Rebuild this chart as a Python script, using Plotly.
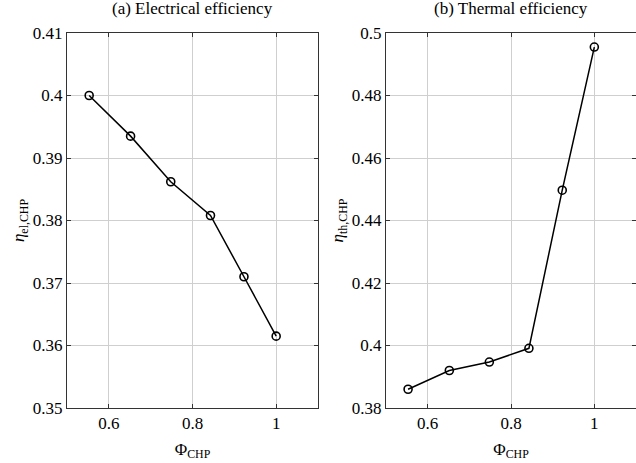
import plotly.graph_objects as go
from plotly.subplots import make_subplots

phi = [0.553, 0.652, 0.748, 0.843, 0.923, 1.0]
eta_el = [0.4000, 0.3935, 0.3862, 0.3808, 0.3710, 0.3615]
eta_th = [0.3860, 0.3920, 0.3947, 0.3991, 0.4497, 0.4955]

titles = ["(a) Electrical efficiency", "(b) Thermal efficiency"]
x_ticks = [0.6, 0.8, 1.0]
x_ticktext = ["0.6", "0.8", "1"]
el_ticks = [0.35, 0.36, 0.37, 0.38, 0.39, 0.40, 0.41]
el_ticktext = ["0.35", "0.36", "0.37", "0.38", "0.39", "0.4", "0.41"]
th_ticks = [0.38, 0.40, 0.42, 0.44, 0.46, 0.48, 0.50]
th_ticktext = ["0.38", "0.4", "0.42", "0.44", "0.46", "0.48", "0.5"]

FONT = "Liberation Serif"
W, H = 636, 463
ml, mr, mt, mb = 67, 0, 33, 55
pw = W - ml - mr

fig = make_subplots(rows=1, cols=2)

line_style = dict(color="black", width=1.5)
marker_style = dict(symbol="circle-open", size=8, color="black", line=dict(width=1.6, color="black"))

fig.add_trace(go.Scatter(x=phi, y=eta_el, mode="lines+markers", line=line_style,
                         marker=marker_style, showlegend=False), row=1, col=1)
fig.add_trace(go.Scatter(x=phi, y=eta_th, mode="lines+markers", line=line_style,
                         marker=marker_style, showlegend=False), row=1, col=2)

axis_common = dict(showline=True, linecolor="#333333", linewidth=1, mirror="allticks",
                   ticks="inside", ticklen=4, tickcolor="#333333", automargin=True,
                   showgrid=True, gridcolor="#cfcfcf", gridwidth=1, zeroline=False,
                   tickfont=dict(family=FONT, size=17, color="black"))

d1 = [0, (318 - 67) / pw]
d2 = [(386 - 67) / pw, 1.0]

fig.update_xaxes(**axis_common, range=[0.5, 1.1], tickvals=x_ticks, ticktext=x_ticktext,
                 title=dict(text="Φ<sub>CHP</sub>", font=dict(family=FONT, size=17, color="black"), standoff=10))
fig.update_xaxes(domain=d1, row=1, col=1)
fig.update_xaxes(domain=d2, row=1, col=2)

fig.update_yaxes(**axis_common)
fig.update_yaxes(range=[0.35, 0.41], tickvals=el_ticks, ticktext=el_ticktext,
                 title=dict(text="<i>η</i><sub>el,CHP</sub>", font=dict(family=FONT, size=17, color="black"), standoff=3),
                 row=1, col=1)
fig.update_yaxes(range=[0.38, 0.50], tickvals=th_ticks, ticktext=th_ticktext,
                 title=dict(text="<i>η</i><sub>th,CHP</sub>", font=dict(family=FONT, size=17, color="black"), standoff=3),
                 row=1, col=2)

annotations = []
for t, d in zip(titles, [d1, d2]):
    annotations.append(dict(text=t, xref="paper", yref="paper", x=(d[0] + d[1]) / 2, y=1.0,
                            yshift=25, showarrow=False, xanchor="center", yanchor="middle",
                            font=dict(family=FONT, size=17, color="black")))

fig.update_layout(width=W, height=H, margin=dict(l=ml, r=mr, t=mt, b=mb, autoexpand=False),
                  plot_bgcolor="white", paper_bgcolor="white", annotations=annotations,
                  font=dict(family=FONT, color="black"))

fig.write_html("out.html", config={"displayModeBar": False},
               post_script="document.body.style.margin='0';document.body.style.overflow='hidden';")
